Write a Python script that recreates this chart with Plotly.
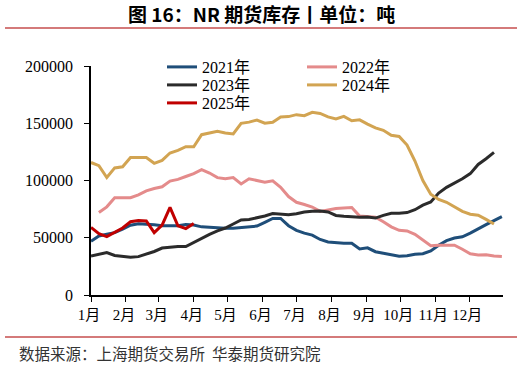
import pandas as pd
import plotly.graph_objects as go

# Weekly calendar (positions on a Jan-Dec axis)
weeks = pd.date_range("2024-01-01", periods=53, freq="7D")

month_ticks = pd.date_range("2024-01-01", periods=13, freq="MS")
month_labels = ["1月", "2月", "3月", "4月", "5月", "6月", "7月", "8月", "9月", "10月", "11月", "12月", ""]

s2021 = [47000, 51500, 53000, 54500, 57500, 61000, 62300, 62000, 61300, 60500,
         60400, 60400, 61500, 61200, 59500, 59000, 58300, 58200, 58400, 58800,
         59300, 60200, 63500, 66800, 66800, 60500, 56500, 54000, 52300, 48500,
         46300, 45600, 45300, 45200, 40200, 41200, 37800, 36500, 35000, 33800,
         34300, 35500, 36000, 38500, 43500, 47500, 49800, 50800, 54000, 58000,
         61500, 65000, 68500]
s2022 = [72000, 77000, 85000, 85000, 85000, 87500, 91000, 93000, 94500, 99500,
         101000, 103500, 106000, 109500, 106500, 102500, 101500, 102500, 97000, 101500,
         100000, 98500, 99700, 94000, 86000, 81000, 79000, 76800, 73000, 74500,
         75500, 76000, 76400, 69000, 68200, 68000, 64000, 59500, 56500, 56000,
         53000, 48000, 43000, 43500, 43700, 43500, 40000, 36000, 35000, 35200,
         34000, 33600]
s2023 = [34000, 35500, 37000, 34500, 34000, 33000, 33500, 35500, 38000, 41000,
         41700, 42300, 42300, 46000, 49500, 53000, 56000, 58500, 62000, 65500,
         66000, 67500, 69000, 71200, 70500, 70000, 71000, 72500, 73200, 73300,
         72500, 69500, 68800, 68300, 67800, 68200, 67200, 69500, 71300, 71500,
         72000, 74500, 78500, 81300, 89000, 94000, 97500, 101500, 106000, 114000,
         119000, 124500]
s2024 = [115700, 113000, 102600, 111000, 112000, 120000, 120000, 120000, 115000, 117600,
         124000, 126300, 129500, 129500, 140000, 141500, 142900, 141500, 140600, 149900,
         151000, 152800, 150000, 150800, 155500, 155800, 157500, 156600, 159500, 158600,
         155500, 153700, 156000, 152200, 153000, 149300, 146000, 143800, 139500, 138500,
         131000, 117000, 100000, 88000, 83500, 81000, 77000, 73000, 70500, 69700,
         66000, 62000]
s2025 = [59000, 53500, 51000, 54500, 58500, 64000, 65000, 64700, 54500, 61000,
         76500, 60500, 58000, 62500]

# name, values, first week index, colour, legend row
series = [
    ("2021年", s2021, 0, "#1f4e79", "legend"),
    ("2022年", s2022, 1, "#e48b8b", "legend"),
    ("2023年", s2023, 0, "#2b2b2b", "legend2"),
    ("2024年", s2024, 0, "#d2a452", "legend2"),
    ("2025年", s2025, 0, "#c00000", "legend3"),
]

fig = go.Figure()
for name, vals, start, color, leg in series:
    fig.add_trace(go.Scatter(
        x=weeks[start:start + len(vals)], y=vals, name=name, mode="lines",
        line=dict(color=color, width=3), hoverinfo="skip", legend=leg))

serif = "Liberation Serif, Times New Roman, Noto Sans CJK SC, serif"
cjk = "Noto Sans CJK SC, sans-serif"

def ypix(py):
    return (295 - py) / 229

def xpix(px):
    return (px - 91) / 412

leg_common = dict(orientation="h", xanchor="left", yanchor="middle",
                  entrywidth=95, entrywidthmode="pixels",
                  font=dict(family=serif, size=16, color="black"),
                  bgcolor="rgba(0,0,0,0)", borderwidth=0)

fig.update_layout(
    width=522, height=366,
    margin=dict(l=91, r=19, t=66, b=71),
    paper_bgcolor="white", plot_bgcolor="white",
    showlegend=True,
    legend=dict(x=xpix(162), y=ypix(67), **leg_common),
    legend2=dict(x=xpix(162), y=ypix(85), **leg_common),
    legend3=dict(x=xpix(162), y=ypix(103), **leg_common),
    xaxis=dict(type="date", range=["2024-01-01", "2024-12-31"],
               tickvals=month_ticks, ticktext=month_labels,
               ticks="outside", ticklen=5, tickcolor="black", tickwidth=1,
               showline=True, linecolor="black", linewidth=1.5,
               showgrid=False, zeroline=False,
               ticklabelshift=-2,
               tickfont=dict(family=serif, size=15, color="black")),
    yaxis=dict(range=[0, 200000], tickvals=[0, 50000, 100000, 150000, 200000],
               ticktext=["0", "50000", "100000", "150000", "200000"],
               ticks="outside", ticklen=5, tickcolor="black", tickwidth=1,
               showline=True, linecolor="black", linewidth=1.5,
               showgrid=False, zeroline=False, ticklabelstandoff=8,
               tickfont=dict(family=serif, size=16, color="black")),
)

fig.add_annotation(text="<b>图 16：NR 期货库存丨单位：吨</b>",
                   xref="paper", yref="paper", x=xpix(261), y=ypix(14),
                   xanchor="center", yanchor="middle", showarrow=False,
                   font=dict(family=cjk, size=19, color="black"))
fig.add_annotation(text="数据来源：上海期货交易所  华泰期货研究院",
                   xref="paper", yref="paper", x=xpix(17), y=ypix(353),
                   xanchor="left", yanchor="middle", showarrow=False,
                   font=dict(family=cjk, size=15.5, color="#333333"))
for yy in (28, 337):
    fig.add_shape(type="line", xref="paper", yref="paper",
                  x0=xpix(5), x1=xpix(517), y0=ypix(yy), y1=ypix(yy),
                  line=dict(color="#d47a7a", width=2))

fig.write_html("out.html", config={"displayModeBar": False},
               post_script="document.body.style.margin='0px';")
